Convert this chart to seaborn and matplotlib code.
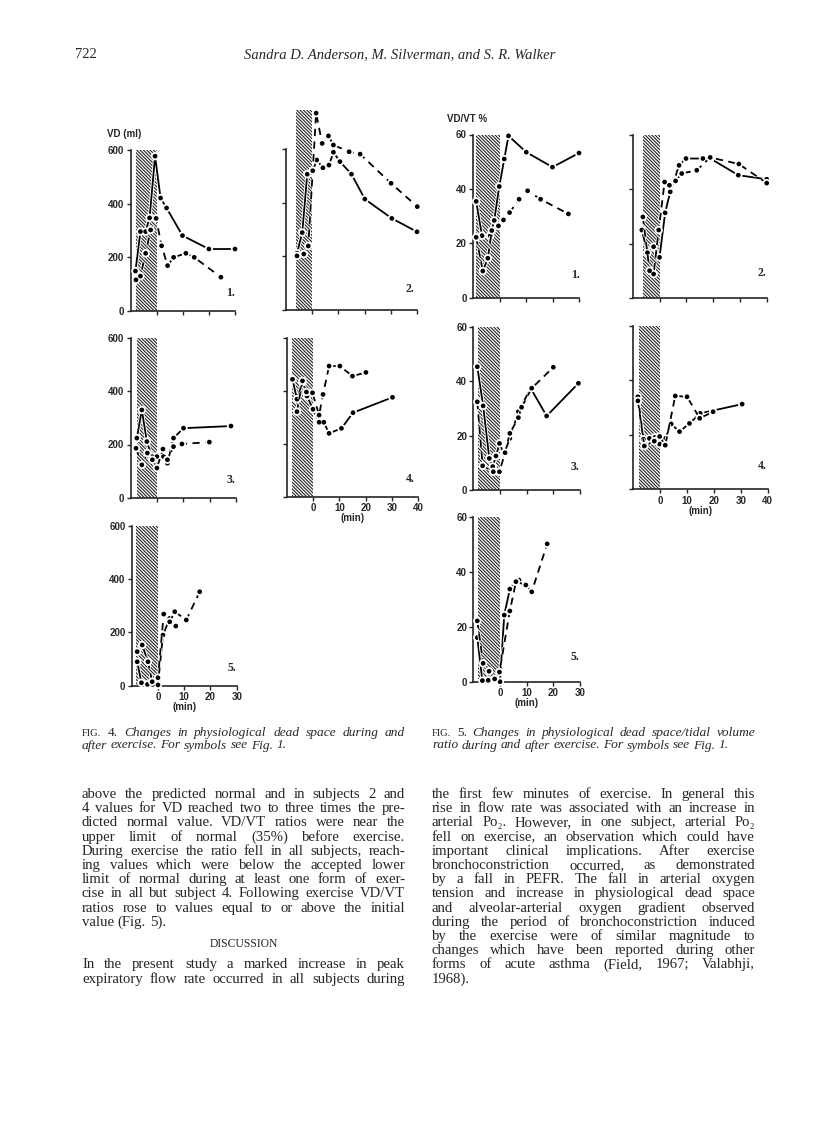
import matplotlib
matplotlib.use('Agg')
import matplotlib.pyplot as plt
import matplotlib.patheffects as pe
import seaborn as sns

# ---- data ----
# Fig. 4: physiological dead space VD (ml)
vd1_solid_x = [-8.1, -6.2, -4.2, -2.7, -0.6, 1.5, 3.8, 9.9, 20, 30]
vd1_solid_y = [149, 296, 296, 347, 577, 421, 384, 281, 231, 231]
vd1_dash_x = [-7.9, -6.2, -4.2, -2.3, -0.2, 1.9, 4.2, 6.5, 11.2, 14.4, 24.6]
vd1_dash_y = [116, 130, 215, 302, 345, 243, 169, 200, 215, 200, 126]

vd2_solid_x = [-5.8, -3.8, -1.9, 0, 1.7, 4.1, 6.4, 8.1, 10.6, 15, 20.1, 30.4, 40]
vd2_solid_y = [212, 289, 507, 513, 560, 531, 541, 589, 554, 507, 414, 342, 292]
vd2_dash_x = [-5.8, -3.2, -1.5, 0.2, 1.5, 3.8, 6.2, 8.1, 14.1, 18.3, 30.1, 40.1]
vd2_dash_y = [202, 209, 239, 520, 735, 622, 650, 616, 591, 582, 473, 386]

vd3_solid_x = [-7.6, -5.7, -3.8, -1.9, 0, 2.5, 4, 6.3, 10.1, 28.1]
vd3_solid_y = [224, 329, 211, 155, 155, 155, 130, 224, 261, 269]
vd3_dash_x = [-7.9, -5.7, -3.6, -1.7, 0, 2.3, 4, 6.3, 9.5, 19.9]
vd3_dash_y = [186, 124, 168, 143, 112, 183, 143, 192, 202, 209]

vd4_solid_x = [-7.8, -6.1, -4, -2.3, 0, 2.3, 4.1, 6.1, 10.8, 15.2, 30.2]
vd4_solid_y = [443, 368, 432, 380, 330, 281, 281, 239, 258, 317, 375]
vd4_dash_x = [-6.1, -4, -2.5, -0.2, 2.3, 3.8, 6.1, 10.2, 15, 20.1]
vd4_dash_y = [321, 437, 395, 392, 308, 386, 493, 493, 455, 469]

vd5_solid_x = [-7.9, -6.3, -4, -2, 0, 1.9, 4.5, 6.8]
vd5_solid_y = [90, 11, 5, 5, 3, 190, 253, 224]
vd5_dash_x = [-7.9, -6, -3.8, -2.2, 0, 2.2, 4.5, 6.4, 10.8, 15.9]
vd5_dash_y = [128, 153, 90, 15, 30, 269, 240, 278, 247, 353]

# Fig. 5: VD/VT ratio (%)
rt1_solid_x = [-8.8, -6.6, -3.5, -2, -0.1, 1.8, 3.4, 10.1, 20, 30]
rt1_solid_y = [35.4, 22.8, 22.8, 28.4, 40.9, 51, 59.5, 53.5, 48, 53.2]
rt1_dash_x = [-8.8, -6.3, -4.4, -2.9, -0.4, 1.5, 3.8, 7.4, 10.6, 15.5, 26]
rt1_dash_y = [22.2, 9.8, 14.5, 24.7, 26.4, 28.6, 31.3, 36.2, 39.3, 36.2, 30.8]

rt2_solid_x = [-6.6, -4.5, -2.2, 0, 2.1, 4, 5.6, 7.3, 9.9, 16.2, 19, 29.4, 40]
rt2_solid_y = [25, 16.7, 18.9, 15, 31.3, 39, 43.5, 48.7, 51.2, 51.2, 51.2, 45.1, 43.6]
rt2_dash_x = [-6.2, -3.7, -2.2, -0.3, 1.9, 3.7, 6, 8.3, 13.9, 18.9, 29.6, 40]
rt2_dash_y = [29.8, 10.1, 8.9, 25, 42.6, 41.4, 43, 45.7, 46.9, 51.6, 49.2, 42.2]

rt3_solid_x = [-8.5, -6.3, -4, -2.7, -1.5, -0.2, 1.5, 3.7, 6.9, 11.5, 17.5, 29.4]
rt3_solid_y = [45.3, 30.9, 11.6, 8.6, 12.5, 17.1, 13.2, 19, 28.8, 37.4, 27.2, 39.2]
rt3_dash_x = [-8.5, -6.5, -2.5, -0.2, 1.9, 3.7, 6.9, 8.1, 11.9, 20]
rt3_dash_y = [32.4, 8.9, 6.7, 6.7, 13.7, 20.8, 26.6, 30.4, 37.4, 45.1]

rt4_solid_x = [-8.3, -6.2, -4, -1.9, -0.2, 1.9, 4.1, 7.2, 10.9, 14.9, 30.5]
rt4_solid_y = [34, 18.4, 18.7, 19.1, 16.6, 18.7, 24, 21.2, 24.2, 27.9, 31.3]
rt4_dash_x = [-8.3, -5.9, -2.2, -0.2, 1.9, 5.6, 10, 14.7, 19.7]
rt4_dash_y = [32.5, 15.9, 17.7, 19.4, 16.2, 34.3, 34, 26.1, 28.5]

rt5_solid_x = [-8.5, -6.6, -4.4, -2, 0, 1.6, 3.7, 5.6, 7.1]
rt5_solid_y = [16.1, 0.4, 0.5, 0.5, 0, 24.3, 33.8, 36.5, 37.1]
rt5_dash_x = [-8.5, -6.3, -4.1, -2, -0.2, 3.7, 6, 9.7, 11.9, 17.7]
rt5_dash_y = [22.2, 6.7, 3.8, 1, 3.5, 25.8, 36.5, 35.3, 32.8, 50.3]

vd_ticks = [0, 200, 400, 600]
rt_ticks = [0, 20, 40, 60]

cap4 = ["Changes in physiological dead space during and",
        "after exercise. For symbols see Fig. 1."]
cap5 = ["Changes in physiological dead space/tidal volume",
        "ratio during and after exercise. For symbols see Fig. 1."]

left_lines = [
    "above the predicted normal and in subjects 2 and",
    "4 values for VD reached two to three times the pre-",
    "dicted normal value. VD/VT ratios were near the",
    "upper limit of normal (35%) before exercise.",
    "During exercise the ratio fell in all subjects, reach-",
    "ing values which were below the accepted lower",
    "limit of normal during at least one form of exer-",
    "cise in all but subject 4. Following exercise VD/VT",
    "ratios rose to values equal to or above the initial",
    "value (Fig. 5).",
]
disc_lines = [
    "In the present study a marked increase in peak",
    "expiratory flow rate occurred in all subjects during",
]
right_lines = [
    "the first few minutes of exercise. In general this",
    "rise in flow rate was associated with an increase in",
    "arterial Po\u2082. However, in one subject, arterial Po\u2082",
    "fell on exercise, an observation which could have",
    "important clinical implications. After exercise",
    "bronchoconstriction occurred, as demonstrated",
    "by a fall in PEFR. The fall in arterial oxygen",
    "tension and increase in physiological dead space",
    "and alveolar-arterial oxygen gradient observed",
    "during the period of bronchoconstriction induced",
    "by the exercise were of similar magnitude to",
    "changes which have been reported during other",
    "forms of acute asthma (Field, 1967; Valabhji,",
    "1968).",
]

# ---- page setup ----
sns.set_style('ticks')
SERIF = ['Liberation Serif', 'DejaVu Serif']
SANS = ['Liberation Sans', 'DejaVu Sans']
plt.rcParams['font.family'] = SERIF
plt.rcParams['hatch.linewidth'] = 0.8

W, H = 816, 1121
fig = plt.figure(figsize=(W / 100, H / 100), dpi=100)
fig.patch.set_facecolor('white')
renderer = fig.canvas.get_renderer()


def fx(px):
    return px / W


def fy(py):
    return 1 - py / H


def panel(left, right, top, bottom, xmax, ymax, ticks, shade_from, shade_top=None,
          ylabels=False, xlabels=False):
    ax = fig.add_axes([fx(left), fy(bottom), (right - left) / W, (bottom - top) / H])
    ax.set_facecolor('none')
    ax.set_xlim(-10, xmax)
    ax.set_ylim(0, ymax)
    sns.despine(ax=ax)
    ax.spines['left'].set_bounds(0, ymax)
    ax.spines['bottom'].set_bounds(-10, xmax)
    for s in ('left', 'bottom'):
        ax.spines[s].set_linewidth(1.2)
    top_frac = (shade_top if shade_top else ymax) / ymax
    ax.axvspan(shade_from, 0, ymin=0, ymax=top_frac, facecolor='white',
               edgecolor='#222222', hatch='\\\\\\\\\\\\\\\\\\\\', linewidth=0,
               clip_on=False, zorder=1)
    xt = list(range(0, xmax + 1, 10))
    ax.set_xticks(xt)
    ax.set_yticks(ticks)
    ax.tick_params(direction='out', length=3, width=1, pad=1.5)
    if ylabels:
        ax.set_yticklabels([str(t) for t in ticks], fontweight='bold', family=SANS, fontsize=7)
    else:
        ax.set_yticklabels([])
    if xlabels:
        ax.set_xticklabels([str(t) for t in xt], fontweight='bold', family=SANS, fontsize=7)
        ax.set_xlabel('(min)', fontweight='bold', family=SANS, fontsize=7, labelpad=0)
    else:
        ax.set_xticklabels([])
    return ax


def series(ax, x, y, dashed):
    kw = dict(x=x, y=y, ax=ax, color='black', marker='o', markersize=3.4,
              markeredgewidth=0, linewidth=1.3, estimator=None, sort=False,
              legend=False, clip_on=False, zorder=3,
              path_effects=[pe.Stroke(linewidth=2.6, foreground='white'), pe.Normal()])
    if dashed:
        kw['linestyle'] = (0, (4, 3))
    sns.lineplot(**kw)


def label(ax_px_x, ax_px_y, txt):
    fig.text(fx(ax_px_x), fy(ax_px_y), txt, fontsize=8.5, fontweight='bold',
             ha='center', va='center', family=SERIF)


# Fig. 4
a = panel(130.5, 235, 150, 311, 30, 600, vd_ticks, -8, ylabels=True)
series(a, vd1_solid_x, vd1_solid_y, False)
series(a, vd1_dash_x, vd1_dash_y, True)
label(230, 293, '1.')

a = panel(286, 417, 149.3, 310, 40, 600, vd_ticks, -6, shade_top=745)
series(a, vd2_solid_x, vd2_solid_y, False)
series(a, vd2_dash_x, vd2_dash_y, True)
label(410, 289, '2.')

a = panel(130.5, 236, 337.5, 498, 30, 600, vd_ticks, -7.7, ylabels=True)
series(a, vd3_solid_x, vd3_solid_y, False)
series(a, vd3_dash_x, vd3_dash_y, True)
label(231, 480, '3.')

a = panel(286.7, 418.3, 337.7, 496.7, 40, 600, vd_ticks, -8, xlabels=True)
series(a, vd4_solid_x, vd4_solid_y, False)
series(a, vd4_dash_x, vd4_dash_y, True)
label(410, 479, '4.')

a = panel(131.7, 236.7, 526, 685.7, 30, 600, vd_ticks, -8.3, ylabels=True, xlabels=True)
series(a, vd5_solid_x, vd5_solid_y, False)
series(a, vd5_dash_x, vd5_dash_y, True)
label(232, 668, '5.')

# Fig. 5
a = panel(473, 579, 134.5, 297.7, 30, 60, rt_ticks, -8.7, ylabels=True)
series(a, rt1_solid_x, rt1_solid_y, False)
series(a, rt1_dash_x, rt1_dash_y, True)
label(575, 275, '1.')

a = panel(632.7, 766.7, 134.5, 298.3, 40, 60, rt_ticks, -6.3)
series(a, rt2_solid_x, rt2_solid_y, False)
series(a, rt2_dash_x, rt2_dash_y, True)
label(762, 273, '2.')

a = panel(473.3, 580, 326.7, 490, 30, 60, rt_ticks, -8.3, ylabels=True)
series(a, rt3_solid_x, rt3_solid_y, False)
series(a, rt3_dash_x, rt3_dash_y, True)
label(575, 467, '3.')

a = panel(633.3, 767.7, 326, 489.3, 40, 60, rt_ticks, -8, xlabels=True)
series(a, rt4_solid_x, rt4_solid_y, False)
series(a, rt4_dash_x, rt4_dash_y, True)
label(762, 466, '4.')

a = panel(473.3, 580, 517.3, 681.7, 30, 60, rt_ticks, -8.4, ylabels=True, xlabels=True)
series(a, rt5_solid_x, rt5_solid_y, False)
series(a, rt5_dash_x, rt5_dash_y, True)
label(575, 657, '5.')

# axis titles
fig.text(fx(107), fy(134), 'VD (ml)', fontsize=7, fontweight='bold', family=SANS, va='center')
fig.text(fx(447), fy(119), 'VD/VT %', fontsize=7, fontweight='bold', family=SANS, va='center')


# ---- text of the page ----
def put_line(words, x0, x1, y, justify=True):
    """words: list of (text, style, size) triples, laid out between x0 and x1 at baseline y (px)."""
    objs = [fig.text(0, 0, w, fontsize=sz, style=st, family=SERIF, va='baseline')
            for w, st, sz in words]
    widths = [o.get_window_extent(renderer).width for o in objs]
    if justify and len(objs) > 1:
        gap = (x1 - x0 - sum(widths)) / (len(objs) - 1)
    else:
        gap = words[-1][2] * 0.25 * 100 / 72
    x = x0
    for o, w in zip(objs, widths):
        o.set_position((fx(x), fy(y)))
        x += w + gap


def plain(line, style='normal', size=10.6):
    return [(w, style, size) for w in line.split(' ')]


COLL, COLR, CW = 82, 432, 323
CAP = 9.6

fig.text(fx(75), fy(58), '722', fontsize=10.5, family=SERIF, va='baseline')
fig.text(fx(400), fy(58), 'Sandra D. Anderson, M. Silverman, and S. R. Walker',
         fontsize=10.5, style='italic', family=SERIF, va='baseline', ha='center')

put_line([('FIG.', 'normal', 7.6), ('4.', 'normal', CAP)] + plain(cap4[0], 'italic', CAP),
         COLL, COLL + CW, 736)
put_line(plain(cap4[1], 'italic', CAP), COLL, COLL + CW, 748.5, justify=False)
put_line([('FIG.', 'normal', 7.6), ('5.', 'normal', CAP)] + plain(cap5[0], 'italic', CAP),
         COLR, COLR + CW, 736)
put_line(plain(cap5[1], 'italic', CAP), COLR, COLR + CW, 748.5, justify=False)

y0, dy = 798, 14.2
for i, line in enumerate(left_lines):
    put_line(plain(line), COLL, COLL + CW, y0 + i * dy, justify=(i < len(left_lines) - 1))
fig.text(fx(COLL + CW / 2), fy(y0 + 10.5 * dy), 'DISCUSSION', fontsize=8.4,
         family=SERIF, ha='center', va='baseline')
for i, line in enumerate(disc_lines):
    put_line(plain(line), COLL, COLL + CW, y0 + (12 + i) * dy)
for i, line in enumerate(right_lines):
    put_line(plain(line), COLR, COLR + CW, y0 + i * dy, justify=(i < len(right_lines) - 1))

fig.savefig('out.png', dpi=100, facecolor='white')
